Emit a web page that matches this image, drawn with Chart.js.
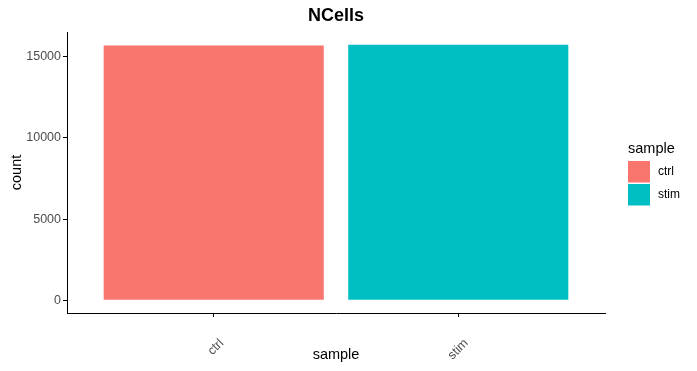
<!DOCTYPE html>
<html>
<head>
<meta charset="utf-8">
<script src="https://cdn.jsdelivr.net/npm/chart.js@4/dist/chart.umd.min.js"></script>
<style>
    body { margin: 0; background: #fff; }
</style>
</head>
<body>
<canvas id="barPlot" width="697" height="371"></canvas>
<script>
const categories = ["ctrl", "stim"];
const counts = [15700, 15740];
const colors = ["#F8766D", "#00BFC4"];
const yTicks = [0, 5000, 10000, 15000];

const FONT = "'Liberation Sans', Arial, sans-serif";

// title centred over the panel + ggplot style legend on the right
const ggDecor = {
    id: "ggDecor",
    afterDraw(chart) {
        const ctx = chart.ctx;
        const area = chart.chartArea;
        ctx.save();
        ctx.fillStyle = "#000";
        ctx.font = "bold 18px " + FONT;
        ctx.textAlign = "center";
        ctx.textBaseline = "alphabetic";
        ctx.fillText("NCells", (area.left + area.right) / 2, 21);

        ctx.textAlign = "left";
        ctx.font = "14.5px " + FONT;
        ctx.fillText("sample", 628, 153);
        ctx.font = "12px " + FONT;
        ctx.textBaseline = "middle";
        categories.forEach((cat, i) => {
            const y = 161 + i * 23;
            ctx.fillStyle = colors[i];
            ctx.fillRect(628, y, 22, 21.5);
            ctx.fillStyle = "#000";
            ctx.fillText(cat, 658, y + 11);
        });
        ctx.restore();
    },
};

const ctx = document.getElementById("barPlot");
const config = {
    type: "bar",
    data: {
        datasets: [
            {
                label: "count",
                data: categories.map((c, i) => ({ x: i + 1, y: counts[i] })),
                backgroundColor: colors,
                categoryPercentage: 0.9,
                barPercentage: 1.0,
            },
        ],
    },
    options: {
        responsive: false,
        animation: false,
        layout: { padding: { left: 0, right: 92, top: 32, bottom: 0 } },
        plugins: {
            legend: { display: false },
            tooltip: { enabled: false },
            title: { display: false },
        },
        scales: {
            x: {
                type: "linear",
                min: 0.4,
                max: 2.6,
                offset: false,
                afterBuildTicks: (scale) => {
                    scale.ticks = categories.map((c, i) => ({ value: i + 1 }));
                },
                afterFit: (scale) => {
                    scale.height = 58;
                },
                ticks: {
                    color: "#4D4D4D",
                    font: { family: FONT, size: 12.5 },
                    minRotation: 45,
                    maxRotation: 45,
                    autoSkip: false,
                    padding: 19,
                    labelOffset: 8,
                    callback: (v) => categories[v - 1],
                },
                grid: {
                    offset: false,
                    drawOnChartArea: false,
                    drawTicks: true,
                    tickLength: 4,
                    color: "#000",
                },
                border: { display: true, color: "#000", width: 1 },
                title: {
                    display: true,
                    text: "sample",
                    color: "#000",
                    font: { family: FONT, size: 14.5 },
                    padding: { top: 0, bottom: 7 },
                },
            },
            y: {
                min: -787,
                max: 16527,
                afterBuildTicks: (scale) => {
                    scale.ticks = yTicks.map((v) => ({ value: v }));
                },
                afterFit: (scale) => {
                    scale.width = 67;
                },
                ticks: {
                    color: "#4D4D4D",
                    font: { family: FONT, size: 12.5 },
                    padding: 2,
                    callback: (v) => String(v),
                },
                grid: {
                    drawOnChartArea: false,
                    drawTicks: true,
                    tickLength: 4,
                    color: "#000",
                },
                border: { display: true, color: "#000", width: 1 },
                title: {
                    display: true,
                    text: "count",
                    color: "#000",
                    font: { family: FONT, size: 14.5 },
                    padding: { top: 8, bottom: 0 },
                },
            },
        },
    },
    plugins: [ggDecor],
};
new Chart(ctx, config);
</script>
</body>
</html>
